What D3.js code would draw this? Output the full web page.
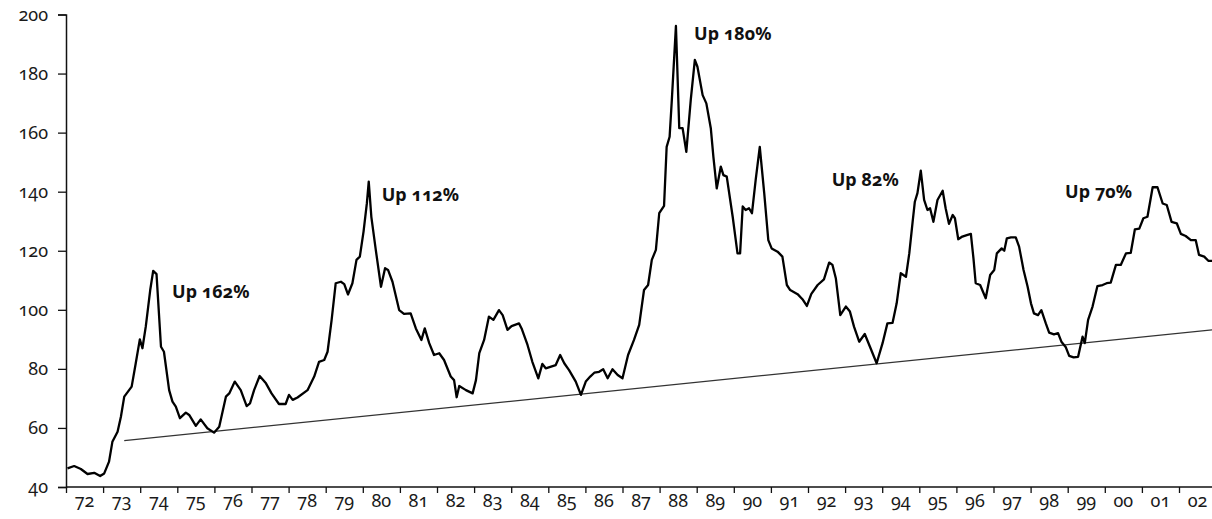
<!DOCTYPE html>
<html>
<head>
<meta charset="utf-8">
<script src="https://cdn.jsdelivr.net/npm/d3@7"></script>
<style>
	body { margin: 0; background: #fff; }
	svg { display: block; }
	text { font-family: "Noto Sans", "Open Sans", sans-serif; font-variant-numeric: oldstyle-nums; font-feature-settings: "onum"; }
	.tick text { font-size: 18px; fill: #1a1a1a; }
	.note { font-size: 18px; font-weight: bold; fill: #111; }
</style>
</head>
<body>
<svg></svg>
<script>
// data..........................................................................

var years = [
	1972.04, 1972.22, 1972.40, 1972.58, 1972.76, 1972.92, 1973.03, 1973.16, 1973.25, 1973.39,
	1973.48, 1973.57, 1973.70, 1973.77, 1973.88, 1973.99, 1974.06, 1974.15, 1974.27, 1974.35,
	1974.44, 1974.56, 1974.64, 1974.78, 1974.87, 1974.96, 1975.07, 1975.23, 1975.32, 1975.50,
	1975.63, 1975.81, 1975.99, 1976.13, 1976.31, 1976.40, 1976.55, 1976.71, 1976.87, 1976.96,
	1977.07, 1977.22, 1977.39, 1977.54, 1977.74, 1977.92, 1978.01, 1978.11, 1978.24, 1978.51,
	1978.69, 1978.82, 1978.96, 1979.05, 1979.16, 1979.27, 1979.41, 1979.50, 1979.60, 1979.72,
	1979.83, 1979.92, 1980.02, 1980.11, 1980.16, 1980.23, 1980.35, 1980.49, 1980.60, 1980.68,
	1980.80, 1980.98, 1981.11, 1981.29, 1981.43, 1981.58, 1981.67, 1981.79, 1981.92, 1982.06,
	1982.19, 1982.37, 1982.46, 1982.53, 1982.60, 1982.78, 1982.96, 1983.05, 1983.14, 1983.27,
	1983.40, 1983.52, 1983.67, 1983.77, 1983.90, 1984.01, 1984.21, 1984.28, 1984.44, 1984.57,
	1984.73, 1984.84, 1984.93, 1985.20, 1985.32, 1985.43, 1985.56, 1985.74, 1985.88, 1986.01,
	1986.13, 1986.24, 1986.37, 1986.48, 1986.60, 1986.73, 1986.87, 1987.00, 1987.15, 1987.31,
	1987.45, 1987.58, 1987.69, 1987.79, 1987.90, 1987.99, 1988.12, 1988.19, 1988.27, 1988.33,
	1988.44, 1988.53, 1988.62, 1988.72, 1988.84, 1988.95, 1989.02, 1989.16, 1989.26, 1989.38,
	1989.45, 1989.54, 1989.65, 1989.72, 1989.81, 1989.97, 1990.10, 1990.17, 1990.24, 1990.32,
	1990.41, 1990.49, 1990.59, 1990.70, 1990.82, 1990.93, 1991.02, 1991.18, 1991.31, 1991.43,
	1991.52, 1991.72, 1991.85, 1991.97, 1992.09, 1992.26, 1992.43, 1992.57, 1992.66, 1992.75,
	1992.87, 1993.02, 1993.13, 1993.24, 1993.38, 1993.53, 1993.67, 1993.85, 1994.01, 1994.14,
	1994.28, 1994.39, 1994.50, 1994.64, 1994.73, 1994.82, 1994.88, 1994.95, 1995.04, 1995.13,
	1995.22, 1995.29, 1995.38, 1995.49, 1995.63, 1995.71, 1995.80, 1995.90, 1995.96, 1996.05,
	1996.16, 1996.28, 1996.39, 1996.46, 1996.52, 1996.64, 1996.79, 1996.91, 1997.02, 1997.09,
	1997.22, 1997.29, 1997.36, 1997.47, 1997.60, 1997.69, 1997.81, 1997.92, 1998.01, 1998.09,
	1998.20, 1998.29, 1998.41, 1998.50, 1998.63, 1998.74, 1998.83, 1998.95, 1999.04, 1999.16,
	1999.28, 1999.40, 1999.46, 1999.55, 1999.67, 1999.80, 1999.94, 2000.05, 2000.16, 2000.30,
	2000.43, 2000.57, 2000.70, 2000.81, 2000.93, 2001.04, 2001.15, 2001.29, 2001.42, 2001.56,
	2001.67, 2001.80, 2001.94, 2002.05, 2002.18, 2002.32, 2002.45, 2002.54, 2002.68, 2002.79,
	2002.92
];

var values = [
	46.3, 47.1, 46.1, 44.4, 44.8, 43.7, 44.6, 48.6, 55.3, 58.7,
	63.8, 70.6, 72.8, 74.0, 81.9, 90.0, 87.0, 94.3, 106.7, 113.2,
	112.1, 87.5, 85.8, 72.8, 68.9, 67.2, 63.3, 65.2, 64.4, 60.7,
	62.9, 59.9, 58.4, 60.4, 70.6, 71.7, 75.7, 72.8, 67.4, 68.3,
	72.8, 77.6, 75.1, 71.7, 68.1, 68.1, 71.2, 69.5, 70.3, 72.8,
	77.4, 82.4, 83.0, 85.8, 96.6, 109.0, 109.5, 108.7, 105.2, 109.0,
	116.9, 118.0, 126.5, 136.1, 143.4, 131.5, 120.3, 107.8, 114.1, 113.5,
	109.5, 99.9, 98.6, 98.8, 93.7, 89.8, 93.7, 88.7, 84.7, 85.3,
	83.0, 77.4, 76.2, 70.4, 74.2, 72.8, 71.7, 76.2, 85.3, 89.8,
	97.7, 96.6, 99.9, 98.2, 93.2, 94.5, 95.4, 93.7, 88.1, 82.4,
	76.8, 81.7, 80.2, 81.3, 84.7, 81.9, 79.6, 75.7, 71.2, 75.7,
	77.4, 78.7, 79.0, 79.9, 76.8, 79.9, 77.9, 76.8, 84.7, 89.8,
	94.9, 106.7, 108.4, 116.9, 120.3, 132.7, 135.2, 155.2, 158.6, 171.1,
	196.1, 161.5, 161.5, 153.5, 171.1, 184.6, 182.3, 172.7, 169.9, 161.5,
	151.8, 141.1, 148.5, 145.6, 145.1, 131.5, 119.1, 119.1, 135.0, 133.8,
	134.4, 132.7, 144.0, 155.2, 139.5, 123.6, 120.8, 119.7, 118.0, 108.4,
	106.7, 105.3, 103.6, 101.3, 105.4, 108.4, 110.3, 116.0, 115.2, 110.7,
	98.2, 101.1, 99.4, 94.3, 89.2, 91.8, 87.5, 81.9, 88.7, 95.4,
	95.6, 102.2, 112.4, 111.2, 119.1, 129.8, 136.6, 139.5, 147.1, 137.2,
	133.8, 134.4, 129.8, 137.2, 140.3, 134.4, 129.1, 132.1, 131.0, 123.9,
	124.8, 125.3, 125.7, 117.4, 109.0, 108.4, 103.9, 111.8, 113.5, 119.1,
	120.8, 120.0, 124.2, 124.5, 124.5, 121.4, 113.5, 107.8, 102.2, 98.8,
	98.2, 99.9, 95.4, 92.3, 91.7, 92.1, 89.2, 87.3, 84.4, 83.9,
	84.1, 90.9, 88.7, 96.6, 101.1, 108.0, 108.4, 109.0, 109.2, 115.2,
	115.2, 119.1, 119.3, 127.2, 127.5, 131.0, 131.5, 141.5, 141.5, 136.0,
	135.5, 129.8, 129.3, 125.7, 125.0, 123.6, 123.6, 118.6, 118.0, 116.6,
	116.6
];

var trendYears = [1973.57, 2002.95],
	trendValues = [55.7, 93.3];

var yTicks = [40, 60, 80, 100, 120, 140, 160, 180, 200],
	xTicks = d3.range(1972, 2004);

var notes = ["Up 162%", "Up 112%", "Up 180%", "Up 82%", "Up 70%"],
	noteYears = [1974.86, 1980.51, 1988.93, 1992.64, 1998.93],
	noteValues = [104.0, 136.8, 191.5, 142.0, 137.8];

// setup.........................................................................

var width = 1212, height = 519,
	margin = {top: 14.5, right: 0, bottom: 32, left: 66};

var svg = d3.select("svg")
	.attr("width", width)
	.attr("height", height);

var x = d3.scaleLinear()
	.domain([1972, 2003])
	.range([margin.left, margin.left + 31 * 37.1]);

var y = d3.scaleLinear()
	.domain([40, 200])
	.range([height - margin.bottom, margin.top]);

var line = d3.line()
	.x(function(d) { return x(d[0]); })
	.y(function(d) { return y(d[1]); });

// axes..........................................................................

var yAxis = svg.append("g")
	.attr("transform", "translate(" + margin.left + ",0)")
	.call(d3.axisLeft(y)
		.tickValues(yTicks)
		.tickSize(8)
		.tickPadding(10));

var xAxis = svg.append("g")
	.attr("transform", "translate(0," + y(40) + ")")
	.call(d3.axisBottom(x)
		.tickValues(xTicks)
		.tickSize(6)
		.tickFormat(""));

// year labels sit between ticks
xAxis.selectAll(".year")
	.data(xTicks.slice(0, -1))
	.enter().append("text")
		.attr("class", "year")
		.attr("x", function(d) { return x(d + 0.5); })
		.attr("y", 20)
		.attr("text-anchor", "middle")
		.style("font-size", "18px")
		.style("fill", "#1a1a1a")
		.text(function(d) { return d3.format("02")(d % 100); });

svg.selectAll(".domain")
	.attr("stroke", "#111")
	.attr("stroke-width", 1.5);
svg.selectAll(".tick line")
	.attr("stroke", "#111")
	.attr("stroke-width", 1.3);

// the x axis line runs across the full width
xAxis.select(".domain").attr("d", "M" + margin.left + ",0H" + width);

// lines.........................................................................

svg.append("path")
	.datum(d3.zip(trendYears, trendValues))
	.attr("fill", "none")
	.attr("stroke", "#333")
	.attr("stroke-width", 1.2)
	.attr("d", line);

svg.append("path")
	.datum(d3.zip(years, values))
	.attr("fill", "none")
	.attr("stroke", "#000")
	.attr("stroke-width", 2.3)
	.attr("stroke-linejoin", "round")
	.attr("d", line);

// notes.........................................................................

svg.selectAll(".note")
	.data(d3.zip(notes, noteYears, noteValues))
	.enter().append("text")
		.attr("class", "note")
		.attr("x", function(d) { return x(d[1]); })
		.attr("y", function(d) { return y(d[2]); })
		.text(function(d) { return d[0]; });
</script>
</body>
</html>
